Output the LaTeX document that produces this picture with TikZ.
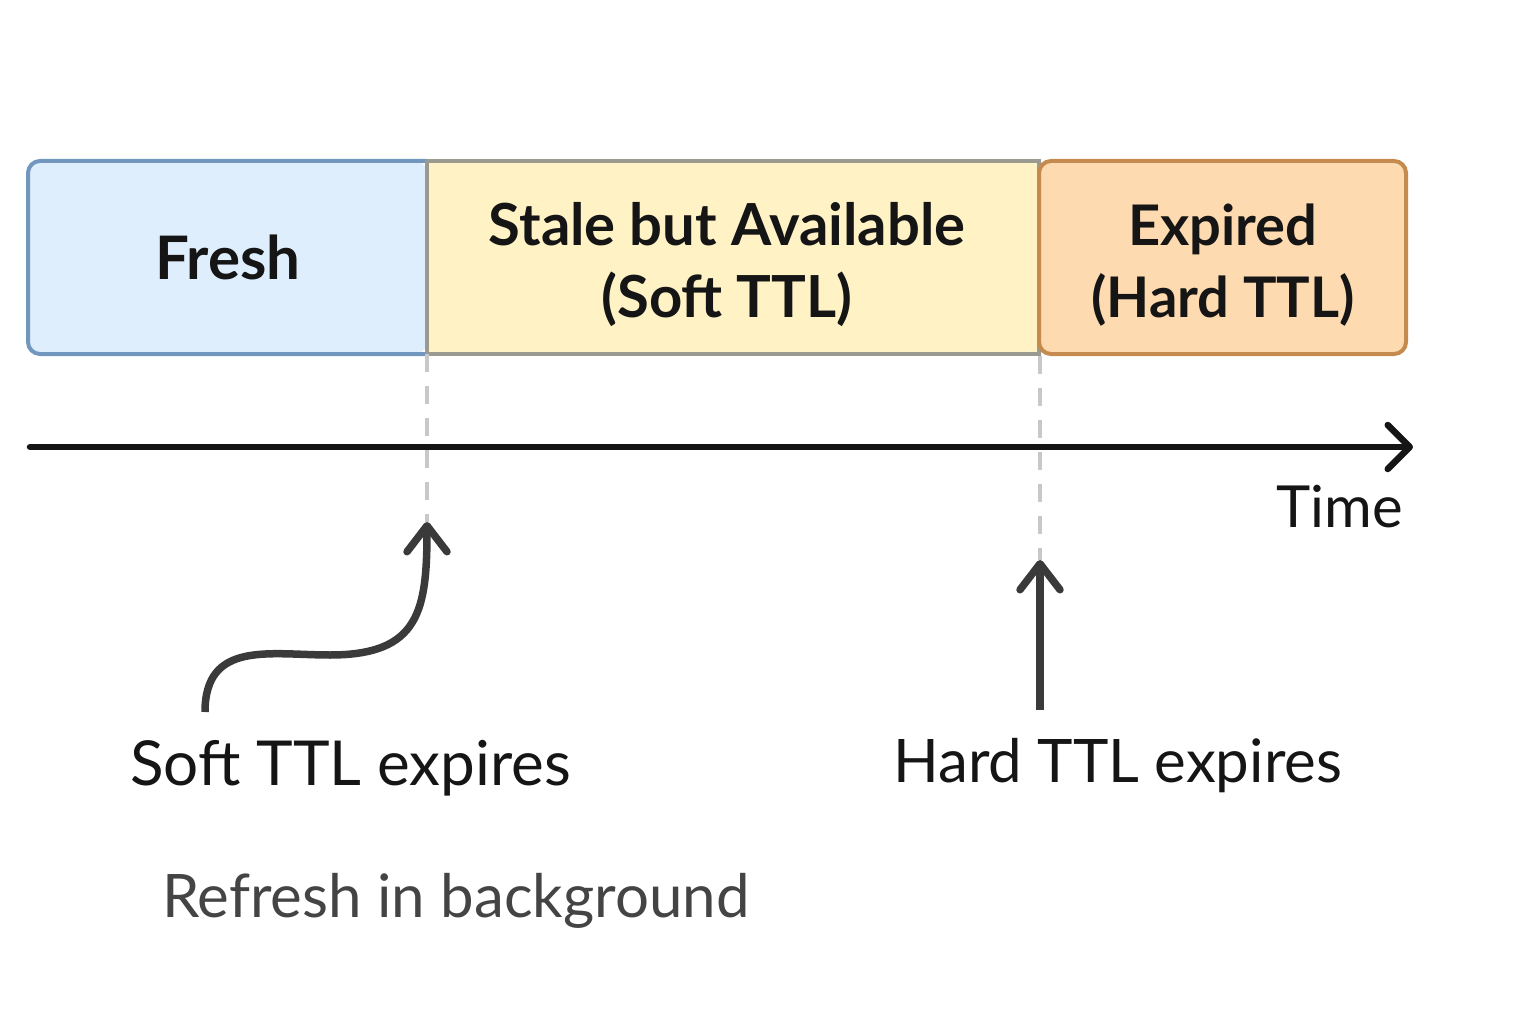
\documentclass[tikz,border=0pt]{standalone}
\usepackage{fontspec}
\setmainfont{Lato}
\usetikzlibrary{arrows.meta}
\definecolor{freshfill}{HTML}{DFEEFC}
\definecolor{freshline}{HTML}{7197BF}
\definecolor{stalefill}{HTML}{FFF3C6}
\definecolor{staleline}{HTML}{9A9A90}
\definecolor{expfill}{HTML}{FDDAB0}
\definecolor{expline}{HTML}{C48A4E}
\definecolor{ink}{HTML}{151515}
\definecolor{arrowink}{HTML}{3A3A3A}
\definecolor{dashgray}{HTML}{C8C8C8}
\definecolor{softink}{HTML}{444444}
\begin{document}
\begin{tikzpicture}[x=1pt,y=-1pt,
  boxlabel/.style={inner sep=0pt, align=center, text=ink, font=\fontsize{58}{72}\selectfont\bfseries},
  eventlabel/.style={inner sep=0pt, anchor=base west, text=ink, font=\fontsize{60}{72}\selectfont},
  dashline/.style={draw=dashgray, line width=3.5pt, dash pattern=on 18pt off 14pt},
  axisline/.style={draw=ink, line width=6.5pt, line cap=round, -{Straight Barb[length=22pt,width=44pt,round]}},
  uparrow/.style={draw=arrowink, line width=7.5pt, -{Straight Barb[length=26pt,width=40pt,round]}},
  segborder/.style={line width=4pt},
]
\useasboundingbox (0,0) rectangle (1536,1024);
% coordinates
\coordinate (tl) at (28,161);
\coordinate (bl) at (28,354);
\coordinate (s1t) at (427,161);
\coordinate (s1b) at (427,354);
\coordinate (s2t) at (1039,161);
\coordinate (s2b) at (1039,354);
\coordinate (tr) at (1406,161);
\coordinate (br) at (1406,354);
% fills
\fill[freshfill, rounded corners=12pt] (s1t) -- (tl) -- (bl) -- (s1b) -- cycle;
\fill[stalefill] (s1t) rectangle (s2b);
\fill[expfill, rounded corners=12pt] (s2t) -- (tr) -- (br) -- (s2b) -- cycle;
% borders
\draw[freshline, segborder, rounded corners=12pt] (s1t) -- (tl) -- (bl) -- (s1b);
\draw[staleline, segborder] (s1t) rectangle (s2b);
\draw[expline, segborder, rounded corners=12pt] (s2t) -- (tr) -- (br) -- (s2b) -- cycle;
% labels in bar
\node[boxlabel, font=\fontsize{60}{72}\selectfont\bfseries] (fresh) at (228,257) {Fresh};
\node[boxlabel] (stale) at (727,265) {Stale but Available\\(Soft TTL)};
\node[boxlabel, font=\fontsize{56}{72}\selectfont\bfseries] (expired) at (1223,265) {Expired\\(Hard TTL)};
% dashed markers
\coordinate (hardtop) at (1040,356);
\coordinate (softend) at (427,522);
\coordinate (hardend) at (1040,560);
\draw[dashline] (s1b) -- (softend);
\draw[dashline] (hardtop) -- (hardend);
% time axis
\coordinate (t0) at (30,447);
\coordinate (t1) at (1413,447);
\draw[axisline] (t0) -- (t1);
\node[inner sep=0pt, anchor=base east, text=ink, font=\fontsize{58}{70}\selectfont] (time) at (1403,527) {Time};
% event arrows
\coordinate (softstart) at (205,712);
\coordinate (hardstart) at (1040,710);
\draw[uparrow] (softstart) .. controls (205,640) and (270,655) .. (330,655) .. controls (420,655) and (427,610) .. (softend);
\draw[uparrow] (hardstart) -- (hardend);
% event labels
\node[eventlabel, font=\fontsize{62}{72}\selectfont] (softlbl) at (130,785) {Soft TTL expires};
\node[eventlabel] (hardlbl) at (893,782) {Hard TTL expires};
\node[eventlabel, text=softink] (refresh) at (162,917) {Refresh in background};
\end{tikzpicture}
\end{document}
